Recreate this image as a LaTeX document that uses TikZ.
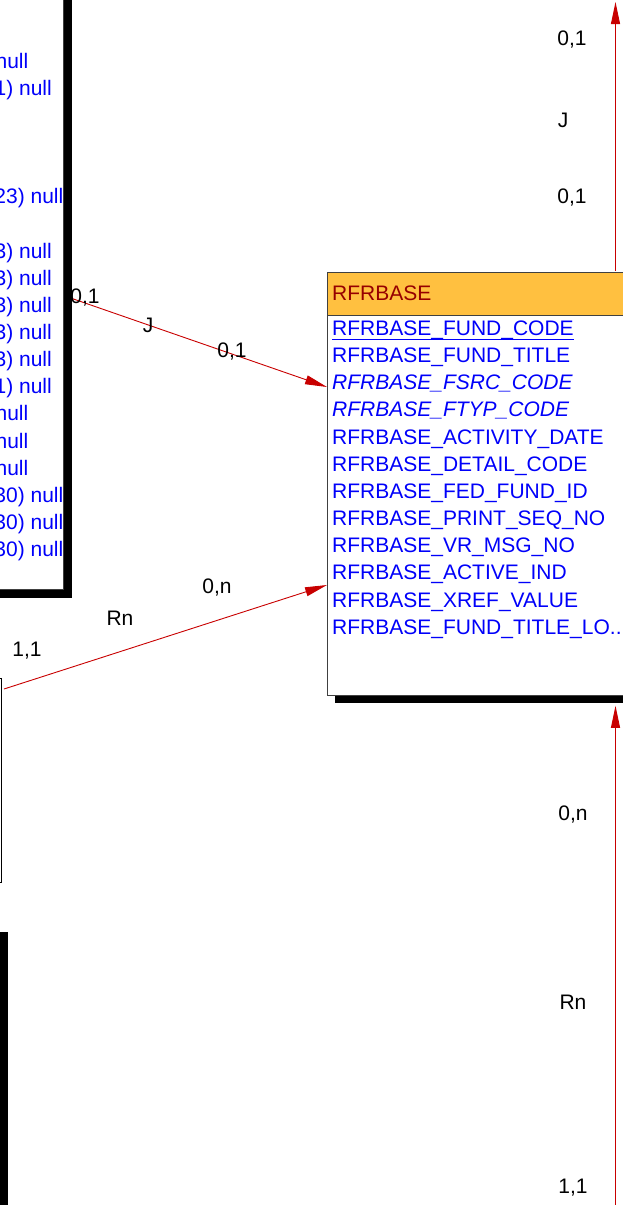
\documentclass[tikz,border=0pt]{standalone}
\usepackage{fontspec}
\setmainfont{Liberation Sans}
\usetikzlibrary{arrows.meta,shadows}

\definecolor{fieldblue}{RGB}{0,0,250}
\definecolor{headfill}{RGB}{255,192,64}
\definecolor{headred}{RGB}{150,0,0}
\definecolor{relred}{RGB}{200,0,0}

\begin{document}
\begin{tikzpicture}[x=1pt,y=-1pt,font=\fontsize{21}{25}\selectfont,
  entity/.style={draw=black!75,fill=white,line width=0.8pt,inner sep=0pt,
    drop shadow={opacity=1,fill=black,shadow xshift=8pt,shadow yshift=-8pt}},
  viewbox/.style={draw=black,fill=white,line width=0.8pt,inner sep=0pt},
  head/.style={draw=black!75,fill=headfill,line width=0.8pt,inner sep=0pt,
    minimum width=320pt,minimum height=43pt,anchor=north west},
  headtext/.style={text=headred,inner sep=0pt,anchor=base west},
  field/.style={text=fieldblue,inner sep=0pt,anchor=base west},
  nullcol/.style={text=fieldblue,inner sep=0pt,anchor=base east},
  card/.style={inner sep=0pt},
  rel/.style={draw=relred,line width=0.9pt,-{Triangle[length=22pt,width=9pt]}}]
\def\dy{27.18};
\def\dyl{27.15};

\useasboundingbox (0,0) rectangle (622,1205);
\clip (-3,-3) rectangle (625,1208);

% tables cut at the left edge
\node[entity,minimum width=400pt,minimum height=700pt,anchor=south east] (tab1) at (64,590) {};
\foreach \yi/\xe/\txt in {0/28.5/null,1/52/1) null,5/63.5/23) null,
  7/52/3) null,8/52/3) null,9/52/3) null,10/52/3) null,11/52/3) null,
  12/52/1) null,13/28.5/null,14/28.5/null,15/28.5/null,
  16/63.5/30) null,17/63.5/30) null,18/63.5/30) null}
  \node[nullcol] (n\yi) at (\xe,{68+\dyl*\yi}) {\txt};

\node[viewbox,minimum width=200pt,minimum height=204pt,anchor=north east] (vw1) at (2,678) {};
\node[entity,minimum width=300pt,minimum height=400pt,anchor=north east] (tab2) at (0,924) {};

% RFRBASE
\node[entity,minimum width=320pt,minimum height=423pt,anchor=north west] (rfrbase) at (327,272) {};
\node[head] (rfrbase-h) at (rfrbase.north west) {};
\node[headtext] (rfrbase-t) at (332,300) {RFRBASE};
\foreach \fld [count=\i] in {RFRBASE\_FUND\_CODE,RFRBASE\_FUND\_TITLE,
  {\itshape RFRBASE\_FSRC\_CODE},{\itshape RFRBASE\_FTYP\_CODE},
  RFRBASE\_ACTIVITY\_DATE,RFRBASE\_DETAIL\_CODE,RFRBASE\_FED\_FUND\_ID,
  RFRBASE\_PRINT\_SEQ\_NO,RFRBASE\_VR\_MSG\_NO,RFRBASE\_ACTIVE\_IND,
  RFRBASE\_XREF\_VALUE,RFRBASE\_FUND\_TITLE\_LO..}
  \node[field] (f\i) at (332,{335.3+\dy*(\i-1)}) {\fld};
\draw[fieldblue,line width=0.9pt] ([yshift=-4pt]f1.base west) -- ([yshift=-4pt]f1.base east);

% connector ends
\path (tab1.south east) ++(8,-291.5) coordinate (tab1-a);
\path (vw1.north east) ++(2,11) coordinate (vw1-b);
\path (rfrbase.north west) ++(0,115) coordinate (rfrbase-a);
\path (rfrbase.north west) ++(0,313) coordinate (rfrbase-b);
\path (rfrbase.north west) ++(288.5,-1) coordinate (rfrbase-c);
\path (rfrbase.south west) ++(288.5,10) coordinate (rfrbase-d);
\coordinate (topend) at (615.5,2);
\coordinate (botend) at (615.5,1210);

\draw[rel] (tab1-a) -- (rfrbase-a);
\node[card] (a1) at (85,298) {0,1};
\node[card] (a2) at (148,325) {J};
\node[card] (a3) at (232,352) {0,1};

\draw[rel] (vw1-b) -- (rfrbase-b);
\node[card] (b1) at (27,651) {1,1};
\node[card] (b2) at (120,618) {Rn};
\node[card] (b3) at (217,588) {0,n};

\draw[rel] (rfrbase-c) -- (topend);
\node[card] (c1) at (572,40) {0,1};
\node[card] (c2) at (563,120) {J};
\node[card] (c3) at (572,198) {0,1};

\draw[rel] (botend) -- (rfrbase-d);
\node[card] (d1) at (573,815) {0,n};
\node[card] (d2) at (573,1002) {Rn};
\node[card] (d3) at (573,1188) {1,1};
\end{tikzpicture}
\end{document}
